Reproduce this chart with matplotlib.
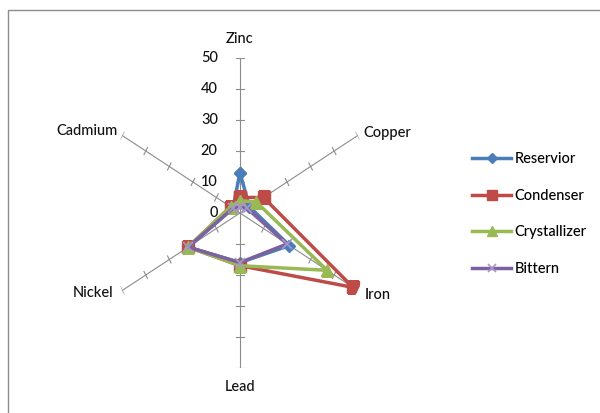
import numpy as np
import matplotlib
matplotlib.use("Agg")
from matplotlib import pyplot as plt
from matplotlib.patches import Rectangle

plt.rcParams['font.family'] = ['Lato', 'DejaVu Sans']

# heavy metal levels at each stage of the salt works
categories = ['Zinc', 'Copper', 'Iron', 'Lead', 'Nickel', 'Cadmium']
reservior = [13, 4, 21, 16, 22, 3]
condenser = [5, 10, 48, 17, 22, 4]
crystallizer = [4, 7, 37, 17, 22, 4]
bittern = [2, 3, 20, 16, 22, 3]
r_ticks = [0, 10, 20, 30, 40, 50]

series = [('Reservior', reservior, '#4A7EBB', 'D', 6.5),
          ('Condenser', condenser, '#BE4B48', 's', 9),
          ('Crystallizer', crystallizer, '#98B954', '^', 9),
          ('Bittern', bittern, '#7D60A0', 'x', 7)]

fig = plt.figure(figsize=(6, 4.13), dpi=100)
fig.patch.set_facecolor('white')

# chart area border (only top and left edge fall inside the image)
fig.patches.append(Rectangle((8/600, -0.1), 1.2, 1.1 - 10/413, transform=fig.transFigure,
                             fill=False, edgecolor='#8c8c8c', lw=1))

ax = fig.add_axes([0.1733, 0.109, 0.4533, 0.7506], projection='polar')
ax.set_aspect('auto')
ax.set_theta_zero_location('N')
ax.set_theta_direction(-1)
ax.set_ylim(0, 50)
ax.grid(False)
ax.spines['polar'].set_visible(False)
ax.set_xticks([])
ax.set_yticks([])
ax.patch.set_alpha(0)

angles = np.arange(len(categories)) * 2 * np.pi / len(categories)

# spokes with cross tick marks
h = 1.3
for a in angles:
    ax.plot([a, a], [0, 50], color='#8c8c8c', lw=0.8, zorder=1)
    for r in r_ticks[1:]:
        d = np.arctan(h / r)
        rr = np.hypot(r, h)
        ax.plot([a - d, a + d], [rr, rr], color='#8c8c8c', lw=0.8, zorder=1)

txt = dict(fontsize=10.5, color='#111111', fontweight='medium')

# radial scale on the Zinc spoke
for r in r_ticks:
    ax.annotate(str(r), xy=(0, r), xytext=(-16, 0), textcoords='offset points',
                ha='right', va='center', **txt)

# category labels
label_pos = {'Zinc': ((0, 14), 'center'), 'Copper': ((4, 2), 'left'),
             'Iron': ((5, -3), 'left'), 'Lead': ((0, -14), 'center'),
             'Nickel': ((-6, -2), 'right'), 'Cadmium': ((-3, 3), 'right')}
for a, name in zip(angles, categories):
    off, ha = label_pos[name]
    ax.annotate(name, xy=(a, 50), xytext=off, textcoords='offset points',
                ha=ha, va='center', **txt)

closed = np.append(angles, angles[0])
for name, vals, col, mk, ms in series:
    v = vals + vals[:1]
    if mk == 'x':
        ax.plot(closed, v, color=col, lw=2.5, marker=mk, ms=ms, mew=1.2,
                mec='#A898C8', label=name, zorder=3)
    else:
        ax.plot(closed, v, color=col, lw=2.5, marker=mk, ms=ms, mfc=col,
                mec=col, label=name, zorder=3)

fig.legend(loc='upper left', bbox_to_anchor=(472/600, 1 - 152/413), frameon=False,
           prop={'size': 10.5, 'weight': 'medium'}, handlelength=2.7,
           handletextpad=0.2, labelspacing=1.55, borderpad=0, borderaxespad=0,
           markerscale=0.85)

fig.savefig('out.png', dpi=100)
